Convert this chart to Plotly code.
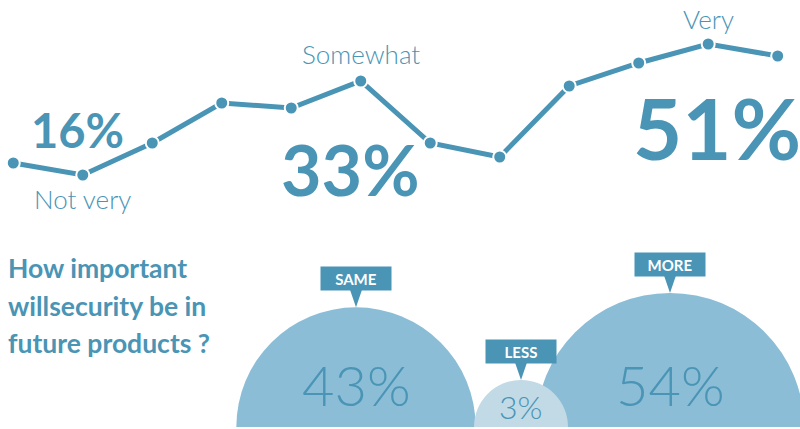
import plotly.graph_objects as go
import numpy as np

# top: response curve, how important is security today
curve_x = list(range(12))
curve_y = [37, 25, 57, 97, 92, 119, 57, 43, 114, 137, 156, 144]

levels = ['Not very', 'Somewhat', 'Very']
level_pct = [16, 33, 51]
level_point = [1, 5, 10]

# bottom: importance in future products
question = ['How important', 'willsecurity be in', 'future products ?']
future = ['SAME', 'LESS', 'MORE']
future_pct = [43, 3, 54]

DARK = '#4a94b5'
BUBBLE = '#8bbdd6'
BUBBLE_LIGHT = '#c1dae6'
FONT = 'Lato'

fig = go.Figure()

# line chart
fig.add_trace(go.Scatter(
    x=curve_x, y=curve_y, mode='lines+markers',
    line=dict(color=DARK, width=5),
    marker=dict(size=13, color=DARK, line=dict(color='white', width=2)),
    xaxis='x', yaxis='y', hoverinfo='skip', cliponaxis=False
))

# label placement per level: (label yshift, pct xshift, pct yshift, pct size)
level_style = [
    (-24, -5, 45, 47),
    (27, -10, -88, 70),
    (25, 9, -83, 85),
]
annotations = []
for name, pct, idx, (ly, px, py, ps) in zip(levels, level_pct, level_point, level_style):
    annotations.append(dict(
        x=curve_x[idx], y=curve_y[idx], xref='x', yref='y', text=name,
        showarrow=False, yshift=ly,
        font=dict(family=FONT, size=26, color=DARK, weight=300)
    ))
    annotations.append(dict(
        x=curve_x[idx], y=curve_y[idx], xref='x', yref='y', text=f'{pct}%',
        showarrow=False, xshift=px, yshift=py,
        font=dict(family=FONT, size=ps, color=DARK, weight=700)
    ))

# question text
for i, line in enumerate(question):
    annotations.append(dict(
        x=6 / 800, y=1 - (268 + i * 37.5) / 429, xref='paper', yref='paper',
        xanchor='left', yanchor='middle', text=f'<b>{line}</b>', showarrow=False,
        font=dict(family=FONT, size=26.5, color=DARK)
    ))

# bubbles (half circles cut by the bottom)
bubble_cx = [356, 521, 670]
diam = [max(36.5 * np.sqrt(p), 94) for p in future_pct]
order = np.argsort(diam)[::-1]
fig.add_trace(go.Scatter(
    x=[bubble_cx[i] for i in order], y=[0] * len(order), mode='markers',
    marker=dict(size=[diam[i] for i in order], sizemode='diameter',
                color=[BUBBLE_LIGHT if future_pct[i] == min(future_pct) else BUBBLE for i in order],
                line=dict(width=0), opacity=1),
    xaxis='x2', yaxis='y2', hoverinfo='skip'
))

shapes = []
for name, pct, cx, d in zip(future, future_pct, bubble_cx, diam):
    r = d / 2
    big = d > 150
    annotations.append(dict(
        x=cx, y=43 if big else 21, xref='x2', yref='y2', text=f'{pct}%',
        showarrow=False, font=dict(family=FONT, size=56 if big else 32, color=DARK, weight=300)
    ))
    annotations.append(dict(
        x=cx, y=r + 17 + 11.5, xref='x2', yref='y2', text=f'<b>{name}</b>',
        showarrow=False, bgcolor=DARK, width=70, height=23, borderpad=0,
        font=dict(family=FONT, size=15, color='white')
    ))
    shapes.append(dict(
        type='path', xref='x2', yref='y2', line=dict(width=0), fillcolor=DARK,
        path=f'M {cx - 6},{r + 17.5} L {cx + 6},{r + 17.5} L {cx},{r} Z'
    ))

fig.update_layout(
    width=800, height=429, autosize=False,
    margin=dict(l=0, r=0, t=0, b=0),
    paper_bgcolor='white', plot_bgcolor='rgba(0,0,0,0)',
    showlegend=False,
    xaxis=dict(domain=[0, 1], range=[-0.191, 11.321], visible=False),
    yaxis=dict(domain=[0, 1], range=[-229, 200], visible=False),
    xaxis2=dict(domain=[0, 1], range=[0, 800], visible=False, anchor='y2'),
    yaxis2=dict(domain=[2 / 429, 1], range=[0, 427], visible=False, anchor='x2'),
    annotations=annotations,
    shapes=shapes,
)

fig.write_html('out.html', config={'displayModeBar': False},
               post_script="document.body.style.margin='0';")
